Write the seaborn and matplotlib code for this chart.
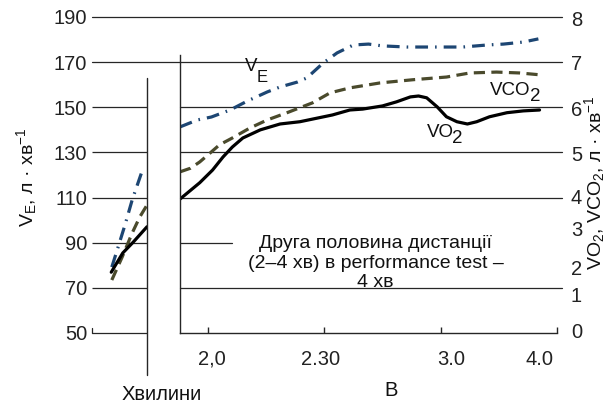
import matplotlib
matplotlib.use('Agg')
import matplotlib.pyplot as plt
import numpy as np
import pandas as pd
import seaborn as sns

# --- data ---
# right-axis (VO2, VCO2) ticks and the left-axis (VE) level each one sits on
right_ticks = [0, 1, 4, 5, 6, 7, 8]
right_on_left = [50, 70, 110, 130, 150, 170, 190]
# where the right labels are actually printed (in VE units)
right_label_pos = [51, 67, 79, 96.5, 110.3, 129.7, 149.6, 170, 189.5]
right_labels = ['0', '1', '2', '3', '4', '5', '6', '7', '8']

left_ticks = [50, 70, 90, 110, 130, 150, 170, 190]

# x positions in the main panel are in "tick slots": 0 = 2,0 ; 1 = 2.30 ; 2 = 3.0 ; 3 = 4.0
x_tick_pos = [0, 1, 2, 3]
x_tick_labels = ['2,0', '2.30', '3.0', '4.0']
x_label_pos = [0.03, 0.97, 2.09, 2.85]

# first part of the race (small left panel, no x scale, 0..1)
ve_early_x = [0.36, 0.47, 0.60, 0.73, 0.93]
ve_early = [79.2, 87.7, 97.9, 108.9, 123.1]
vo2_early_x = [0.35, 0.56, 0.75, 1.0]
vo2_early = [1.52, 2.16, 2.52, 3.03]
vco2_early_x = [0.36, 0.55, 0.73, 0.87, 1.0]
vco2_early = [1.26, 2.03, 2.82, 3.36, 3.75]

# second half of the distance (main panel)
ve_x = [-0.24, -0.09, 0.03, 0.19, 0.34, 0.51, 0.62, 0.77, 0.85, 0.99, 1.11, 1.25,
        1.38, 1.50, 1.71, 1.91, 2.05, 2.19, 2.40, 2.54, 2.71, 2.84]
ve = [141.3, 144.4, 145.7, 148.8, 152.8, 156.8, 159.0, 161.2, 163.0, 169.6, 174.1, 177.6,
      178.0, 177.2, 176.7, 176.7, 176.7, 176.7, 177.6, 178.0, 178.9, 180.3]

vo2_x = [-0.24, -0.07, 0.04, 0.13, 0.21, 0.30, 0.45, 0.62, 0.79, 1.07, 1.22,
         1.33, 1.50, 1.62, 1.74, 1.81, 1.88, 1.97, 2.05, 2.14, 2.23, 2.31, 2.42, 2.57,
         2.71, 2.85]
vo2 = [3.95, 4.33, 4.61, 4.90, 5.12, 5.32, 5.50, 5.63, 5.68, 5.83, 5.94,
       5.96, 6.03, 6.12, 6.23, 6.25, 6.21, 6.01, 5.79, 5.68, 5.63, 5.68, 5.79, 5.88,
       5.92, 5.94]

vco2_x = [-0.24, -0.15, -0.07, 0.02, 0.10, 0.21, 0.36, 0.51, 0.68, 0.90, 1.05, 1.22,
          1.48, 1.76, 2.05, 2.25, 2.48, 2.68, 2.85]
vco2 = [4.57, 4.65, 4.79, 4.99, 5.17, 5.32, 5.54, 5.72, 5.88, 6.10, 6.32, 6.43,
        6.54, 6.61, 6.67, 6.76, 6.78, 6.76, 6.72]


def to_left(v):
    # put VO2/VCO2 (right scale) onto the VE scale
    return np.interp(v, right_ticks, right_on_left)


sns.set_theme(style='white')
plt.rcParams['font.family'] = ['Liberation Sans', 'DejaVu Sans']
plt.rcParams['mathtext.fontset'] = 'custom'
plt.rcParams['mathtext.rm'] = 'Liberation Sans'
plt.rcParams['mathtext.it'] = 'Liberation Sans:italic'

LINE = '#262626'
BLUE = '#1d4673'
OLIVE = '#4a4a2c'
FS = 14.5
TXT = '#111111'

fig = plt.figure(figsize=(6.15, 4.05), dpi=100)
ax0 = fig.add_axes([92 / 615, 72 / 405, 55 / 615, 316 / 405])
ax = fig.add_axes([180 / 615, 72 / 405, 377 / 615, 316 / 405])

for a in (ax0, ax):
    a.set_ylim(50, 190)
    a.patch.set_alpha(0)
    for s in a.spines.values():
        s.set_visible(False)

# small panel
ax0.set_xlim(0, 1)
ax0.set_xticks([])
ax0.set_yticks(left_ticks)
ax0.tick_params(axis='y', length=0, pad=3.5, labelsize=FS, colors='#222222')
ax0.hlines([50, 70, 90, 110, 130, 150], 0, 1, color=LINE, lw=0.9, clip_on=False)
ax0.plot([1, 1], [31.4, 163.0], color=LINE, lw=1.0, clip_on=False)
ax0.plot([0, 0], [50, 52.3], color=LINE, lw=0.9, clip_on=False)

sns.lineplot(x=ve_early_x, y=ve_early, ax=ax0, color=BLUE, lw=2.3,
             linestyle=(0, (4, 2.2, 0.5, 2.2)), sort=False)
sns.lineplot(x=vco2_early_x, y=to_left(vco2_early), ax=ax0, color=OLIVE, lw=2.3,
             linestyle=(0, (3.5, 2)), sort=False)
sns.lineplot(x=vo2_early_x, y=to_left(vo2_early), ax=ax0, color='black', lw=2.3,
             sort=False)

# main panel
ax.set_xlim(-0.24, 3.0)
ax.spines['left'].set_visible(True)
ax.spines['left'].set_bounds(50, 173.2)
ax.spines['bottom'].set_visible(True)
for s in ('left', 'bottom'):
    ax.spines[s].set_color(LINE)
    ax.spines[s].set_linewidth(1.0)
ax.set_yticks([])
ax.set_xticks(x_tick_pos)
ax.set_xticks(x_label_pos, minor=True)
ax.set_xticklabels(x_tick_labels, minor=True)
ax.tick_params(axis='x', which='major', direction='in', length=4, width=1,
               color=LINE, labelbottom=False, bottom=True)
ax.tick_params(axis='x', which='minor', length=0, pad=12, labelsize=FS,
               colors='#222222', bottom=True)

ytr = ax.get_yaxis_transform()
for lv in (190, 170):
    ax.plot([-0.2334, 1.0133], [lv, lv], transform=ytr, color=LINE, lw=0.9, clip_on=False)
for lv in (150, 130, 110, 70):
    ax.plot([0, 1.0133], [lv, lv], transform=ytr, color=LINE, lw=0.9, clip_on=False)
ax.plot([0, 0.138], [90, 90], transform=ytr, color=LINE, lw=0.9, clip_on=False)

sns.lineplot(x=ve_x, y=ve, ax=ax, color=BLUE, lw=2.3,
             linestyle=(0, (4, 2.2, 0.5, 2.2)), sort=False)
sns.lineplot(x=vco2_x, y=to_left(vco2), ax=ax, color=OLIVE, lw=2.3,
             linestyle=(0, (3.5, 2)), sort=False)
sns.lineplot(x=vo2_x, y=to_left(vo2), ax=ax, color='black', lw=2.3, sort=False)

# right scale labels
ax2 = ax.twinx()
ax2.set_ylim(50, 190)
for s in ax2.spines.values():
    s.set_visible(False)
ax2.set_yticks(right_label_pos)
ax2.set_yticklabels(right_labels)
ax2.tick_params(axis='y', length=0, pad=10, labelsize=FS, colors='#222222')

# curve labels
ax.text(0.32, 168.1, 'V', fontsize=13.5, ha='left', va='center', color=TXT)
ax.text(0.42, 163.2, 'E', fontsize=12, ha='left', va='center', color=TXT)
ax.text(2.42, 157.4, 'VCO', fontsize=13.5, ha='left', va='center', color=TXT)
ax.text(2.765, 154.6, '2', fontsize=13.5, ha='left', va='center', color=TXT)
ax.text(1.88, 138.8, 'VO', fontsize=13.5, ha='left', va='center', color=TXT)
ax.text(2.10, 136.0, '2', fontsize=13.5, ha='left', va='center', color=TXT)

ax.text(1.44, 81.0, 'Друга половина дистанції\n(2–4 хв) в performance test –\n4 хв',
        ha='center', va='center', fontsize=14, linespacing=1.2, color=TXT)

fig.text(27 / 615, 1 - 177 / 405, r'V$_\mathregular{E}$, л · хв$^{\mathregular{-1}}$',
         rotation=90, ha='center', va='center', fontsize=14, color=TXT)
fig.text(595 / 615, 1 - 183 / 405,
         r'VO$_\mathregular{2}$, VCO$_\mathregular{2}$, л · хв$^{\mathregular{-1}}$',
         rotation=90, ha='center', va='center', fontsize=14, color=TXT)
fig.text(162 / 615, 1 - 394 / 405, 'Хвилини', ha='center', va='center', fontsize=FS,
         color=TXT)
fig.text(391 / 615, 1 - 391 / 405, 'В', ha='center', va='center', fontsize=FS,
         color=TXT)

fig.savefig('out.png', dpi=100)
